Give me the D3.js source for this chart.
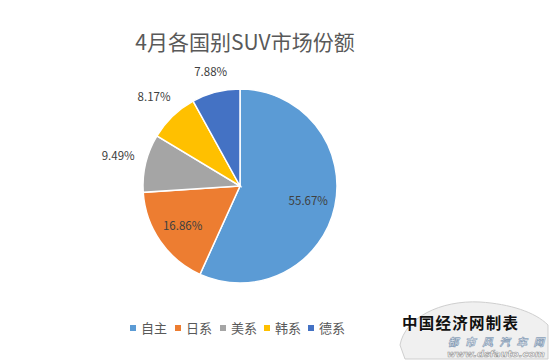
<!DOCTYPE html>
<html><head><meta charset="utf-8">
<script src="https://cdn.jsdelivr.net/npm/d3@7"></script>
<style>body{margin:0;background:#fff}svg{display:block}</style>
</head><body>
<svg id="c" width="550" height="360"></svg>
<script>
const title = "4月各国别SUV市场份额";
const categories = ["自主","日系","美系","韩系","德系"];
const values = [55.67,16.86,9.49,8.17,7.88];
const labels = ["55.67%","16.86%","9.49%","8.17%","7.88%"];
const colors = ["#5B9BD5","#ED7D31","#A5A5A5","#FFC000","#4472C4"];

const svg = d3.select("#c");
const font = "'Microsoft YaHei','Noto Sans CJK SC',sans-serif";
svg.append("rect").attr("width",550).attr("height",360).attr("fill","#fff");

svg.append("text").attr("x",245).attr("y",50).attr("text-anchor","middle")
  .attr("font-family",font).attr("font-size",21).attr("fill","#595959").text(title);

const cx=240, cy=186, r=97;
const pie = d3.pie().sort(null).value(d=>d)(values);
const arc = d3.arc().innerRadius(0).outerRadius(r);
const g = svg.append("g").attr("transform",`translate(${cx},${cy})`);
g.selectAll("path").data(pie).join("path").attr("d",arc)
  .attr("fill",(d,i)=>colors[i]).attr("stroke","#fff").attr("stroke-width",1.5);

function labelPos(d,i){
  const a=(d.startAngle+d.endAngle)/2;
  const s=Math.sin(a), c=Math.cos(a);
  const rr = i<2 ? r*0.72 : r+8+8*Math.abs(c)+19*Math.abs(s);
  return [rr*s, -rr*c];
}
g.selectAll("text.lbl").data(pie).join("text").attr("class","lbl")
  .attr("transform",(d,i)=>{const p=labelPos(d,i);return `translate(${p[0]},${p[1]})`;})
  .attr("text-anchor","middle").attr("dy","0.35em")
  .attr("font-family",font).attr("font-size",11.5).attr("fill","#404040")
  .text((d,i)=>labels[i]);

// legend
const legX=[130,175,220,264,308];
const lg = svg.append("g");
categories.forEach((c,i)=>{
  lg.append("rect").attr("x",legX[i]).attr("y",325).attr("width",6).attr("height",6).attr("fill",colors[i]);
  lg.append("text").attr("x",legX[i]+11).attr("y",328).attr("dy","0.35em")
    .attr("font-family",font).attr("font-size",13).attr("fill","#595959").text(c);
});

// watermark
const wm = svg.append("g");
wm.append("path").attr("d","M400,345 C405,318 440,300 480,302 C510,304 535,312 548,325 L548,359 L405,359 Z")
  .attr("fill","#f0f0f0").attr("stroke","#cfcfcf").attr("stroke-width",1);
wm.append("text").attr("x",402).attr("y",329).attr("font-family",font).attr("font-size",15.5)
  .attr("font-weight","bold").attr("fill","#111").attr("textLength",116).text("中国经济网制表");
wm.append("text").attr("x",448).attr("y",346).attr("font-family",font).attr("font-size",10.5)
  .attr("font-style","italic").attr("font-weight","bold").attr("fill","#fff").attr("stroke","#8aa0b8").attr("stroke-width",0.7)
  .attr("textLength",96).text("都市风汽车网");
wm.append("text").attr("x",447).attr("y",357).attr("font-family","'DejaVu Sans',sans-serif").attr("font-size",9)
  .attr("font-style","italic").attr("font-weight","bold").attr("fill","#fff").attr("stroke","#999").attr("stroke-width",0.6)
  .attr("textLength",98).attr("lengthAdjust","spacingAndGlyphs").text("www.dsfauto.com");
</script>
</body></html>
